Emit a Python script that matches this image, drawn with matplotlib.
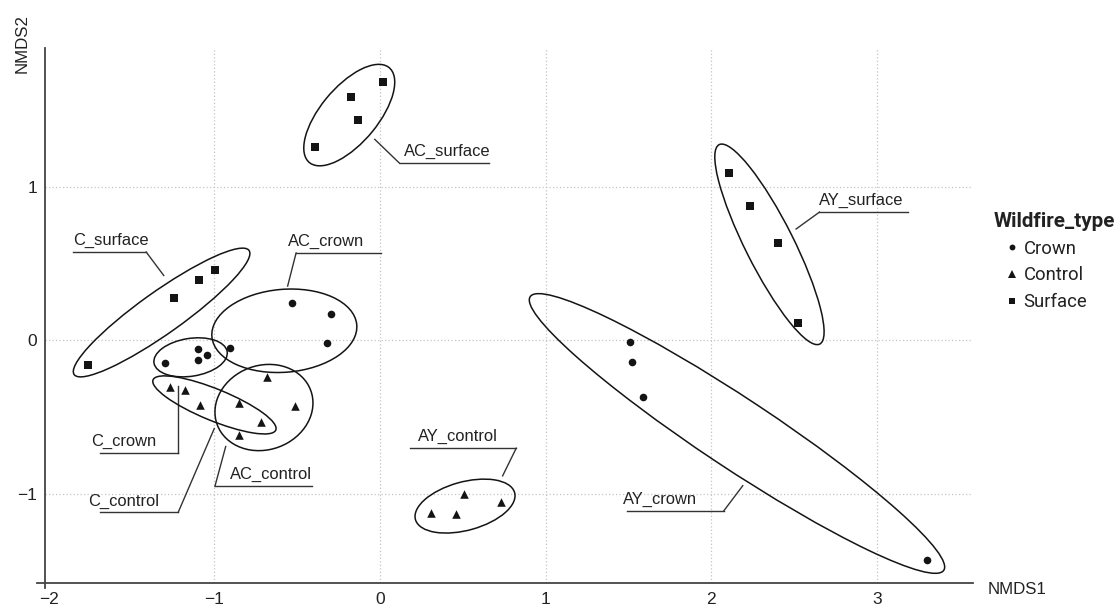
import numpy as np
import matplotlib
matplotlib.use('Agg')
import matplotlib.pyplot as plt
from matplotlib.patches import Ellipse
from matplotlib.lines import Line2D
from matplotlib.transforms import offset_copy

# NMDS scores per site group
groups = ['C_surface', 'C_crown', 'C_control',
          'AC_surface', 'AC_crown', 'AC_control',
          'AY_surface', 'AY_crown', 'AY_control']
wildfire_type = ['Surface', 'Crown', 'Control',
                 'Surface', 'Crown', 'Control',
                 'Surface', 'Crown', 'Control']

nmds1 = [[-1.760, -1.245, -1.095, -0.994],
         [-1.295, -1.101, -1.101, -1.041],
         [-1.265, -1.178, -1.087, -0.718],
         [0.020, -0.176, -0.133, -0.394],
         [-0.908, -0.532, -0.297, -0.320],
         [-0.851, -0.684, -0.514, -0.851],
         [2.110, 2.237, 2.406, 2.527],
         [1.509, 1.523, 1.587, 3.305],
         [0.311, 0.458, 0.510, 0.729]]
nmds2 = [[-0.160, 0.278, 0.395, 0.458],
         [-0.145, -0.059, -0.129, -0.097],
         [-0.306, -0.325, -0.420, -0.529],
         [1.680, 1.585, 1.433, 1.260],
         [-0.049, 0.245, 0.171, -0.017],
         [-0.406, -0.236, -0.425, -0.618],
         [1.093, 0.878, 0.631, 0.111],
         [-0.008, -0.140, -0.367, -1.431],
         [-1.127, -1.134, -1.004, -1.055]]

# enclosing ellipses: centre, semi-axes, angle (data units)
ell_x = [-1.318, -1.143, -0.999, -0.185, -0.577, -0.700, 2.352, 2.156, 0.514]
ell_y = [0.181, -0.111, -0.421, 1.467, 0.062, -0.438, 0.625, -0.607, -1.080]
ell_a = [0.665, 0.224, 0.405, 0.392, 0.439, 0.305, 0.717, 1.534, 0.312]
ell_b = [0.134, 0.123, 0.102, 0.176, 0.270, 0.271, 0.147, 0.222, 0.157]
ell_angle = [37.6, 10.0, -24.0, 53.0, 5.4, 31.9, -65.1, -35.6, 17.0]

type_order = ['Crown', 'Control', 'Surface']

# label layout: text x, underline x0, x1, underline y, connector end x, y, side
label_layout = {
    'C_surface':  (-1.855, -1.855, -1.411, 0.575, -1.305, 0.422, 'right'),
    'C_crown':    (-1.743, -1.689, -1.222, -0.731, -1.222, -0.299, 'right'),
    'C_control':  (-1.763, -1.689, -1.218, -1.121, -1.000, -0.575, 'right'),
    'AC_surface': (0.145, 0.119, 0.661, 1.153, -0.031, 1.309, 'left'),
    'AC_crown':   (-0.557, -0.506, 0.004, 0.569, -0.557, 0.353, 'left'),
    'AC_control': (-0.904, -0.996, -0.408, -0.951, -0.931, -0.692, 'left'),
    'AY_surface': (2.654, 2.654, 3.187, 0.835, 2.513, 0.725, 'left'),
    'AY_crown':   (1.468, 1.489, 2.077, -1.110, 2.191, -0.947, 'right'),
    'AY_control': (0.231, 0.179, 0.823, -0.703, 0.741, -0.883, 'right'),
}

markers = {'Crown': 'o', 'Control': '^', 'Surface': 's'}
sizes = {'Crown': 30, 'Control': 38, 'Surface': 28}
ink = '#141414'

plt.rcParams['font.family'] = ['Liberation Sans', 'DejaVu Sans']

fig = plt.figure(figsize=(11.14, 6.10), dpi=100)
ax = fig.add_axes([45 / 1114, 1 - 583 / 610, 928 / 1114, 535 / 610])

for i, g in enumerate(groups):
    t = wildfire_type[i]
    ax.scatter(nmds1[i], nmds2[i], marker=markers[t], s=sizes[t],
               color=ink, linewidths=0, zorder=3)
    ax.add_patch(Ellipse((ell_x[i], ell_y[i]), 2 * ell_a[i], 2 * ell_b[i],
                         angle=ell_angle[i], fill=False, ec=ink, lw=1.1, zorder=2))

    tx, x0, x1, ly, ex, ey, side = label_layout[g]
    sx = x0 if side == 'left' else x1
    ax.plot([x0, x1], [ly, ly], color='#333333', lw=1.0, zorder=2)
    ax.plot([sx, ex], [ly, ey], color='#333333', lw=1.0, zorder=2)
    ax.text(tx, ly, g, fontsize=11.9, color='#222222', ha='left', va='baseline',
            transform=offset_copy(ax.transData, fig=fig, y=5.0, units='points'))

ax.set_xlim(-2.022, 3.581)
ax.set_ylim(-1.581, 1.904)
ax.set_xticks([-2, -1, 0, 1, 2, 3])
ax.set_yticks([-1, 0, 1])
ax.set_xticklabels(['\u22122', '\u22121', '0', '1', '2', '3'])
ax.set_yticklabels(['\u22121', '0', '1'])
ax.tick_params(length=0, labelsize=12.5, labelcolor='#222222')
ax.tick_params(axis='x', pad=6.5)
ax.tick_params(axis='y', pad=5.5)

ax.grid(True, color='#c4c4c4', lw=0.9, linestyle=(0, (1, 1.8)))
ax.get_xgridlines()[0].set_visible(False)
ax.set_axisbelow(True)

for s in ['top', 'right']:
    ax.spines[s].set_visible(False)
for s in ['left', 'bottom']:
    ax.spines[s].set_color('#444444')
    ax.spines[s].set_linewidth(1.3)
ax.spines['left'].set_bounds(-1.615, 1.904)
ax.spines['bottom'].set_bounds(-2.07, 3.581)

ax.set_xlabel('NMDS1', fontsize=12.2, color='#222222', ha='left', va='center')
ax.xaxis.set_label_coords((988 - 45) / 928, (583 - 590) / 535)
ax.set_ylabel('NMDS2', fontsize=12.2, color='#222222', ha='center', va='center',
              rotation=90, rotation_mode='default')
ax.yaxis.set_label_coords((22 - 45) / 928, (583 - 43) / 535)

handles = [Line2D([], [], marker=markers[t], ls='none', color=ink, markeredgewidth=0,
                  markersize={'Crown': 4.2, 'Control': 5.6, 'Surface': 4.6}[t])
           for t in type_order]
leg = ax.legend(handles, type_order, title='Wildfire_type', loc='upper left',
                bbox_to_anchor=(994 / 1114, 1 - 212 / 610), bbox_transform=fig.transFigure,
                frameon=False, borderpad=0, borderaxespad=0, handlelength=2.0,
                handletextpad=-0.4, labelspacing=0.47, alignment='left',
                prop={'family': ['Roboto', 'DejaVu Sans'], 'size': 13.3},
                title_fontproperties={'family': ['Roboto', 'DejaVu Sans'],
                                      'weight': 'bold', 'size': 14.9})
for txt in leg.get_texts():
    txt.set_color('#222222')
leg.get_title().set_color('#222222')

fig.savefig('out.png', dpi=100, facecolor='white')
